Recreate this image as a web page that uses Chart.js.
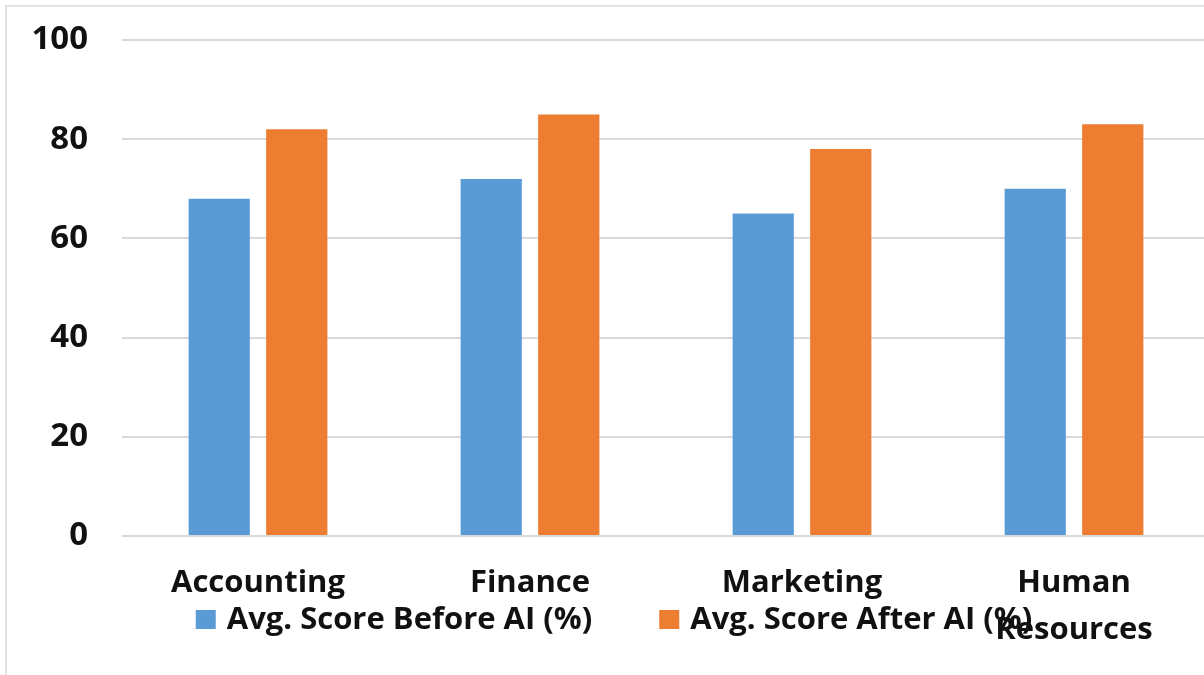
<!DOCTYPE html>
<html>
<head>
<meta charset="utf-8">
<script src="https://cdn.jsdelivr.net/npm/chart.js@4/dist/chart.umd.min.js"></script>
<style>
  html, body { margin: 0; padding: 0; background: #fff; overflow: hidden; }
  #wrap { position: relative; width: 1212px; height: 675px; }
</style>
</head>
<body>
<div id="wrap"><canvas id="chart"></canvas></div>
<script>
const departments = ['Accounting', 'Finance', 'Marketing', ['Human', 'Resources']];
const scoreBefore = [68, 72, 65, 70];
const scoreAfter = [82, 85, 78, 83];
const yTicks = [0, 20, 40, 60, 80, 100];

const BLUE = '#5B9BD5';
const ORANGE = '#ED7D31';
const FONT = '"Open Sans", Lato, sans-serif';
const FONT_SIZE = 31;

// outer frame of the chart box (left and top edges only show)
const frame = {
  id: 'frame',
  beforeDraw(chart) {
    const ctx = chart.ctx;
    ctx.save();
    ctx.strokeStyle = '#d9d9d9';
    ctx.lineWidth = 1.5;
    ctx.beginPath();
    ctx.moveTo(6, 680);
    ctx.lineTo(6, 6);
    ctx.lineTo(chart.width + 10, 6);
    ctx.stroke();
    ctx.restore();
  }
};

// legend row drawn under the category labels
const bottomLegend = {
  id: 'bottomLegend',
  afterDraw(chart) {
    const ctx = chart.ctx;
    const box = 20, gapText = 11, gapItems = 67;
    ctx.save();
    ctx.font = 'bold ' + FONT_SIZE + 'px ' + FONT;
    ctx.textBaseline = 'middle';
    ctx.textAlign = 'left';
    const items = chart.data.datasets.map(ds => ({
      text: ds.label, color: ds.backgroundColor,
      w: box + gapText + ctx.measureText(ds.label).width
    }));
    const total = items.reduce((s, it) => s + it.w, 0) + gapItems * (items.length - 1);
    let x = 614 - total / 2;
    const y = 620;
    items.forEach(it => {
      ctx.fillStyle = it.color;
      ctx.fillRect(x, y - box / 2, box, box - 1);
      ctx.fillStyle = '#111';
      ctx.fillText(it.text, x + box + gapText, y);
      x += it.w + gapItems;
    });
    ctx.restore();
  }
};

new Chart(document.getElementById('chart'), {
  type: 'bar',
  data: {
    labels: departments,
    datasets: [
      { label: 'Avg. Score Before AI (%)', data: scoreBefore, backgroundColor: BLUE },
      { label: 'Avg. Score After AI (%)', data: scoreAfter, backgroundColor: ORANGE }
    ]
  },
  options: {
    responsive: true,
    maintainAspectRatio: false,
    animation: false,
    layout: { padding: { top: 40, right: 2, bottom: 0, left: 0 } },
    categoryPercentage: 0.57,
    barPercentage: 0.79,
    scales: {
      y: {
        min: 0,
        max: 100,
        afterFit: (scale) => {
          scale.width = 122;
          scale.paddingTop = 0;
          scale.paddingBottom = 0;
        },
        afterBuildTicks: (scale) => { scale.ticks = yTicks.map(v => ({ value: v })); },
        grid: { color: '#d9d9d9', lineWidth: 2, drawTicks: false },
        border: { display: false },
        ticks: {
          padding: 34,
          color: '#111',
          font: { family: FONT, size: 33, weight: 'bold' }
        }
      },
      x: {
        afterFit: (scale) => { scale.height = 139; },
        grid: { display: false, drawTicks: false },
        border: { display: false },
        ticks: {
          padding: 24,
          maxRotation: 0,
          autoSkip: false,
          color: '#111',
          font: { family: FONT, size: FONT_SIZE, weight: 'bold', lineHeight: 1.5 }
        }
      }
    },
    plugins: {
      legend: { display: false },
      tooltip: { enabled: false }
    }
  },
  plugins: [frame, bottomLegend]
});
</script>
</body>
</html>
